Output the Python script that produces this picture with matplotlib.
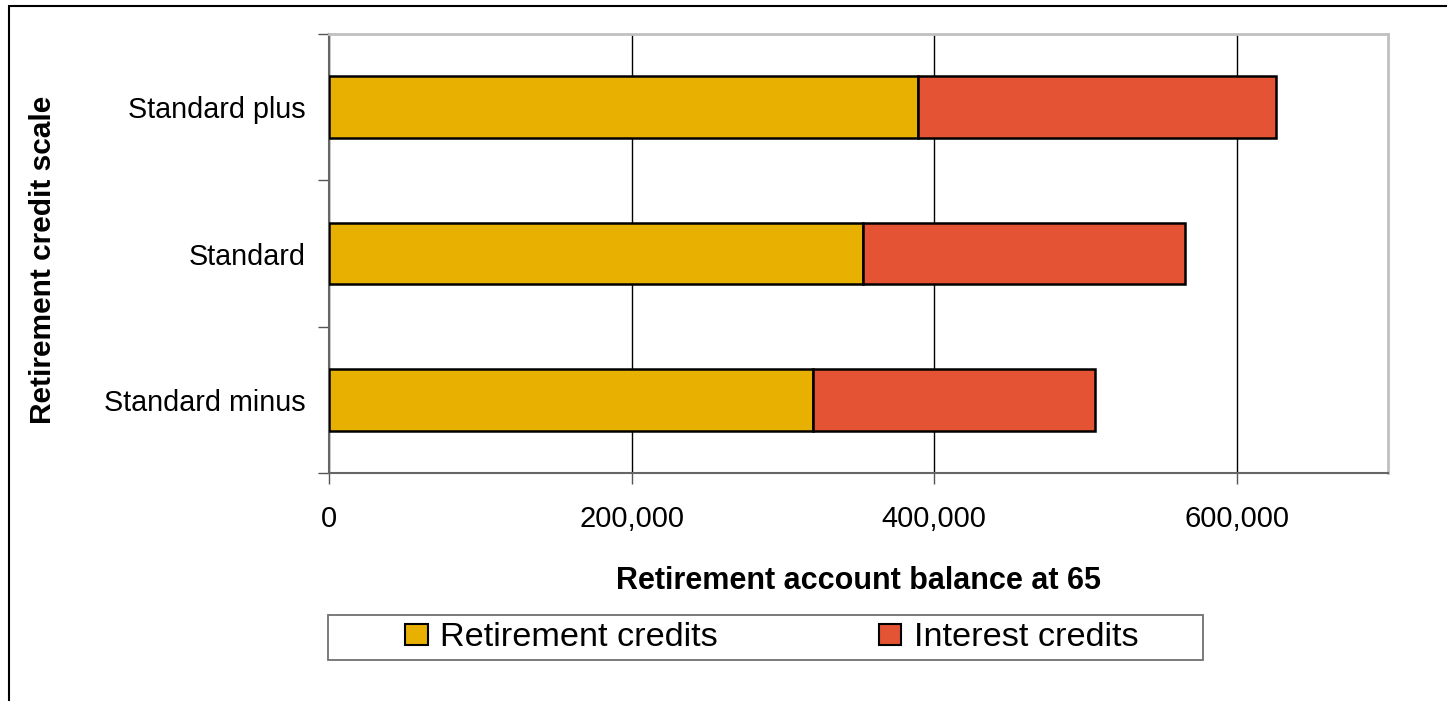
import matplotlib
matplotlib.use("Agg")
import matplotlib.pyplot as plt
from matplotlib.patches import Rectangle
from matplotlib.ticker import FuncFormatter, FixedLocator

categories = ["Standard minus", "Standard", "Standard plus"]
retirement_credits = [320000, 353000, 389000]
interest_credits = [186000, 213000, 237000]
series_names = ["Retirement credits", "Interest credits"]
xticks = [0, 200000, 400000, 600000]

plt.rcParams['font.family'] = ['Liberation Sans', 'DejaVu Sans']

W, H = 1447, 701
fig = plt.figure(figsize=(W / 100, H / 100), dpi=100)
# outer chart border (top/left visible)
fig.patches.append(Rectangle((9 / W, -0.1), 1.2, 1 - 6 / H + 0.1, transform=fig.transFigure,
                             fill=False, edgecolor='black', linewidth=1.5))

ax = fig.add_axes([329 / W, 1 - 473 / H, (1388 - 329) / W, (473 - 34) / H])

ypos = list(range(len(categories)))
yellow = '#E8B000'
red = '#E55335'
ax.barh(ypos, retirement_credits, height=0.42, color=yellow, edgecolor='black',
        linewidth=1.8, label=series_names[0], zorder=3)
ax.barh(ypos, interest_credits, left=retirement_credits, height=0.42, color=red,
        edgecolor='black', linewidth=1.8, label=series_names[1], zorder=3)

ax.set_xlim(0, 700000)
ax.set_ylim(-0.5, 2.5)
ax.xaxis.set_major_locator(FixedLocator(xticks))
ax.xaxis.set_major_formatter(FuncFormatter(lambda v, p: f"{int(v):,}"))
ax.grid(axis='x', color='black', linewidth=1, zorder=0)
ax.tick_params(axis='x', labelsize=21, length=8, width=1, color='#555555', pad=15, direction='out')

ax.set_yticks(ypos)
ax.set_yticklabels(categories, fontsize=20.7)
ax.tick_params(axis='y', which='major', length=0, pad=17)
ax.set_yticks([-0.5, 0.5, 1.5, 2.5], minor=True)
ax.tick_params(axis='y', which='minor', length=8, width=1, color='#555555', direction='out')

for s in ['top', 'right']:
    ax.spines[s].set_color('#c0c0c0')
    ax.spines[s].set_linewidth(2)
for s in ['left', 'bottom']:
    ax.spines[s].set_color('#666666')
    ax.spines[s].set_linewidth(1.5)

ax.set_xlabel("Retirement account balance at 65", fontsize=22, fontweight='bold', labelpad=24)
fig.text(43 / W, 1 - 260 / H, "Retirement credit scale", rotation=90, fontsize=21.5,
         fontweight='bold', ha='center', va='center')

# legend frame
fig.patches.append(Rectangle((328 / W, 1 - 660 / H), (1203 - 328) / W, 45 / H,
                             transform=fig.transFigure, fill=False,
                             edgecolor='#707070', linewidth=1.3))
leg = fig.legend(loc='center', bbox_to_anchor=(772 / W, 1 - 638 / H), ncol=2,
                 fontsize=24.7, frameon=False, handlelength=0.65,
                 handleheight=0.55, handletextpad=0.37, columnspacing=4.7,
                 borderpad=0.0)
for h in leg.legend_handles:
    h.set_linewidth(1.5)

fig.savefig("out.png", dpi=100)
